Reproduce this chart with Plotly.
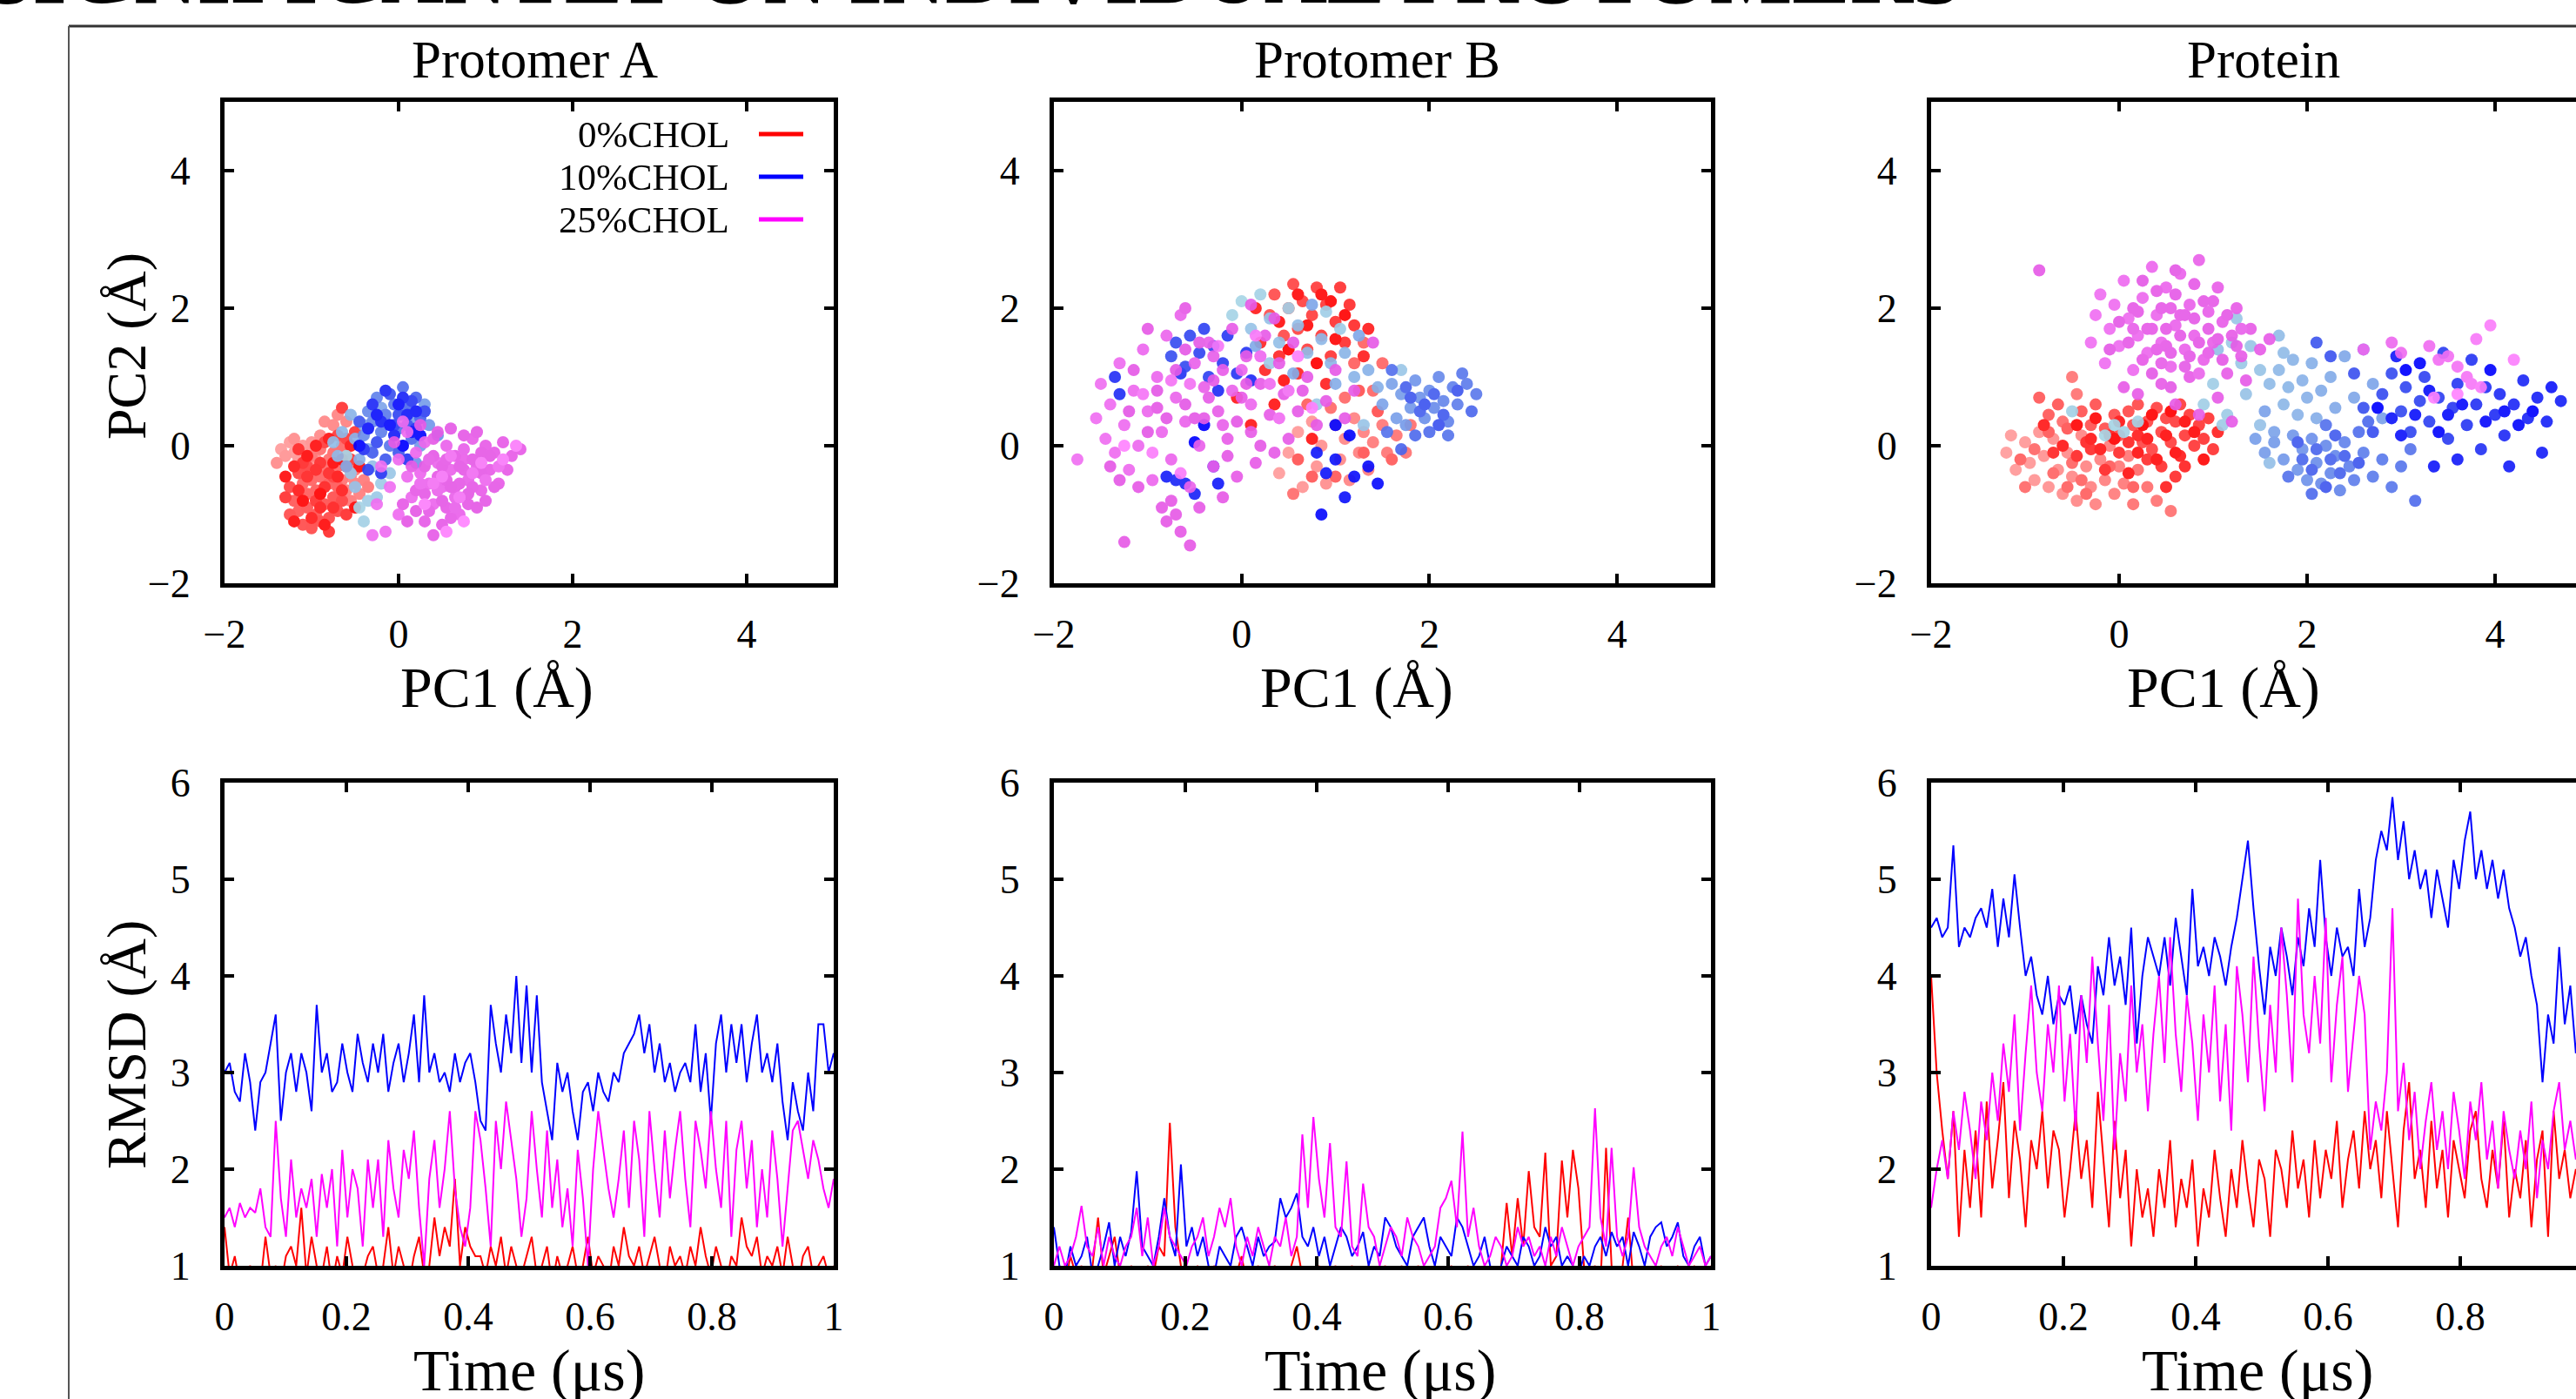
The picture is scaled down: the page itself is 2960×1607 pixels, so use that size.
import plotly.graph_objects as go

W, H = 2960, 1607
FONT = "Liberation Serif"

PANEL_TITLES = ["Protomer A", "Protomer B", "Protein"]
SERIES = ["0%CHOL", "10%CHOL", "25%CHOL"]
LINE_COLORS = ["#ff0000", "#0000ff", "#ff00ff"]
HEADING = "SIGNIFICANTLY ON INDIVIDUAL PROTOMERS"

PC_TICKS = [-2, 0, 2, 4]
RMSD_TICKS = [1, 2, 3, 4, 5, 6]
TIME_TICKS = [0, 0.2, 0.4, 0.6, 0.8, 1]
TIME_TICK_TEXT = ["0", "0.2", "0.4", "0.6", "0.8", "1"]

# ---------------- PCA scatter data (PC1, PC2) in time order ----------------
A_RED = [(-1.35,-0.05),(-1.25,0.05),(-1.2,-0.1),(-1.1,0.0),(-1.15,-0.2),(-1.3,-0.15),(-1.05,-0.1),(-1.0,0.05),
         (-0.95,-0.2),(-1.2,0.1),(-1.4,-0.25),(-0.9,0.15),(-0.85,0.35),(-0.75,0.3),(-0.7,0.45),(-0.6,0.35),
         (-0.55,-0.45),(-0.5,-0.55),(-0.45,-0.7),(-0.6,-0.65),(-0.4,-0.5),(-0.55,-0.8),(-0.5,-0.35),(-0.35,-0.6),
         (-0.65,-0.5),(-1.0,-0.15),(-0.9,-0.05),(-0.8,-0.2),(-0.85,-0.35),(-0.75,-0.1),(-0.7,-0.3),(-0.65,0.0),
         (-0.6,-0.15),(-0.9,-0.45),(-1.0,-0.5),(-1.1,-0.55),(-1.05,-0.7),(-0.95,-0.65),(-0.8,-0.55),(-0.7,-0.6),
         (-1.2,-0.8),(-1.15,-0.95),(-1.05,-0.9),(-0.95,-1.0),(-0.85,-0.85),(-0.75,-0.75),(-1.25,-1.0),(-1.1,-1.15),
         (-1.0,-1.2),(-0.9,-1.1),(-0.8,-1.05),(-0.7,-0.95),(-1.25,-0.6),(-1.15,-0.4),(-1.05,-0.3),(-0.65,-0.8),
         (-0.75,-0.45),(-0.85,0.05),(-0.7,0.15),(-0.6,0.1),(-0.55,-0.2),(-0.5,0.2),(-0.65,0.55),(-0.95,-0.8),
         (-1.3,-0.75),(-0.6,-1.0),(-0.8,-1.25),(-1.1,-0.25),(-0.9,-0.25),(-0.8,-0.4),
         (-1.15,-0.05),(-1.05,-0.45),(-0.95,-0.35),(-0.85,-0.6),(-0.75,-0.9),(-0.65,-0.65),(-0.9,-0.9),
         (-1.0,-1.05),(-1.15,-0.65),(-1.2,-0.3),(-0.7,-0.45),(-0.6,-0.3),(-0.55,0.0),(-0.8,0.1),(-0.95,0.0),
         (-1.3,-0.45),(-1.2,-1.1),(-0.85,-1.15),(-1.05,-0.15),(-0.75,-0.25),(-0.45,-0.3),(-0.5,-0.9),
         (-1.1,-0.8),(-0.9,-0.7),(-0.65,-0.2)]
A_BLUE = [(-0.6,-0.15),(-0.45,-0.9),(-0.4,-1.1),(-0.35,-0.8),(-0.2,-0.55),(-0.25,-0.75),(-0.1,-0.4),(-0.55,-0.4),
          (-0.5,-0.6),(-0.3,-0.3),(-0.75,0.05),(-0.7,-0.15),(-0.65,0.2),(-0.55,0.45),(-0.5,0.1),(-0.45,-0.2),
          (-0.6,-0.3),(-0.4,0.3),(-0.35,-0.05),(-0.2,0.55),(0.05,0.45),(0.15,0.35),(0.3,0.6),(0.25,0.0),
          (0.35,0.3),(0.2,-0.25),(0.45,0.15),(-0.4,0.15),(-0.35,0.5),(-0.3,0.35),(-0.25,0.7),(-0.2,0.2),
          (-0.15,0.45),(-0.1,0.0),(-0.05,0.6),(0.0,0.25),(0.05,0.85),(0.1,0.55),(0.15,0.1),(0.2,0.7),
          (0.25,0.4),(-0.3,-0.1),(-0.15,-0.2),(0.0,-0.1),(-0.45,0.35),(-0.1,0.75),(0.1,0.3),(-0.25,0.05),
          (0.0,0.45),(0.3,0.5),(-0.35,-0.35),(-0.05,0.3),(0.15,0.65),(-0.2,-0.4),(0.1,-0.2),(-0.4,-0.05),(0.2,0.25),
          (-0.3,0.6),(-0.15,0.8),(0.05,0.7),(-0.2,0.35),(-0.05,0.15),(0.1,0.45),(0.2,0.5),(-0.35,0.25),
          (-0.25,0.45),(0.0,0.6),(-0.1,0.3),(0.15,0.2),(0.25,0.15),(-0.45,0.0),(0.05,0.0)]
A_MAG = [(-0.2,-0.3),(-0.1,-0.6),(-0.25,-0.85),(-0.3,-1.3),(-0.15,-1.25),(0.0,-1.0),(0.05,0.35),(0.1,0.2),
         (0.0,-0.2),(0.1,-0.45),(0.15,-0.75),(0.2,-0.1),(0.25,-0.4),(0.3,0.05),(0.35,-0.55),(0.4,-0.85),
         (0.45,-0.25),(0.5,-0.6),(0.55,0.0),(0.6,-0.35),(0.65,-0.75),(0.7,-1.0),(0.75,-0.2),(0.8,-0.5),
         (0.85,0.1),(0.9,-0.3),(0.95,-0.65),(1.0,0.0),(1.05,-0.35),(1.1,-0.1),(1.15,-0.55),(1.2,0.05),
         (1.3,-0.15),(1.4,-0.05),(1.25,-0.35),(0.3,-1.1),(0.4,-1.3),(0.5,-1.15),(0.6,-1.05),(0.35,-0.95),
         (0.55,-0.9),(0.45,-0.45),(0.2,-0.65),(0.15,-0.3),(0.05,-0.85),(0.65,-0.15),(0.7,-0.55),(0.8,-0.85),
         (0.85,-0.2),(0.95,-0.4),(0.75,0.15),(0.6,0.25),(0.9,0.2),(1.0,-0.8),(1.1,-0.6),(0.25,0.3),
         (0.4,0.1),(0.5,-0.3),(0.3,-0.7),(0.55,-0.5),(0.75,-0.35),(0.4,-0.15),(0.65,-0.6),(0.85,-0.6),
         (1.05,-0.15),(-0.05,0.05),(0.1,-1.1),(0.2,-0.95),(0.95,-0.1),(0.45,0.2),
         (0.3,-0.3),(0.5,-0.8),(0.6,-0.6),(0.7,-0.3),(0.8,-0.7),(0.9,-0.9),(0.55,-0.2),(0.35,-0.2),
         (0.75,-0.05),(0.65,-0.9),(0.45,-0.65),(0.25,-0.55),(1.0,-0.5),(1.15,-0.3),(0.85,-0.4),(0.6,-0.15),
         (0.4,-0.55),(0.7,-0.75),(0.5,-0.45),(0.95,-0.25),(1.2,-0.2),(1.35,0.0),(0.3,-0.85),(0.55,-1.25),(0.75,-1.1)]

B_RED = [(0.4,-0.4),(0.5,-0.1),(0.6,0.2),(0.65,-0.6),(0.75,0.35),(0.8,-0.3),(0.85,0.0),(0.9,-0.55),
         (1.0,0.3),(1.05,-0.2),(1.1,0.1),(1.15,-0.5),(1.2,0.4),(1.25,-0.1),(1.3,0.2),(1.35,-0.35),
         (1.4,0.05),(1.5,0.3),(1.55,-0.1),(1.65,0.15),(1.75,-0.1),(1.8,0.3),(0.55,-0.7),(0.95,0.55),
         (1.1,0.7),(1.4,0.8),(1.5,1.2),(1.3,1.5),(1.2,1.2),(0.7,0.6),(1.6,-0.2),(1.0,-0.45),(0.75,-0.45),
         (1.3,-0.1),(0.6,-0.2),(1.25,0.8),(1.45,0.5),
         (0.3,1.9),(0.35,2.2),(0.45,1.6),(0.5,2.0),(0.55,2.35),(0.6,1.7),(0.65,2.1),(0.7,1.4),(0.75,1.9),(0.8,2.3),
         (0.85,1.6),(0.9,2.05),(0.95,1.3),(1.0,1.8),(1.05,2.3),(1.1,1.5),(1.15,2.05),(1.2,1.75),
         (0.4,1.3),(0.2,1.5),(0.25,1.1),(0.6,1.05),(0.9,0.9),(1.3,1.3),(1.35,1.7),(0.15,2.0),
         (-0.05,0.7),(0.1,0.3),(0.35,0.6),(0.75,0.1),(0.45,0.95),
         (0.4,1.8),(0.6,2.2),(0.7,1.75),(0.85,2.2),(1.0,1.55),(0.95,2.1),(1.1,1.9),(0.5,1.4),(0.8,1.2)]
B_BLUE = [(0.0,2.1),(-0.1,1.9),(0.2,2.2),(0.5,2.0),(0.9,1.95),(1.05,1.7),(0.3,1.2),(0.8,0.6),(1.7,1.1),(1.3,0.3),
          (0.1,1.7),(0.3,1.85),(0.4,1.5),(0.6,1.75),(0.7,1.35),(0.85,1.55),(0.95,1.2),(1.1,1.35),(1.2,1.0),
          (1.35,1.1),(1.45,0.85),(1.0,0.9),(0.55,1.05),(0.15,1.45),(1.25,1.6),(0.75,2.05),
          (1.5,0.6),(1.6,0.9),(1.65,0.4),(1.7,0.75),(1.75,0.3),(1.8,0.55),(1.85,0.95),(1.9,0.7),(1.95,0.4),
          (2.0,0.8),(2.05,0.55),(2.1,1.0),(2.15,0.65),(2.2,0.35),(2.25,0.85),(2.3,0.6),(2.4,0.9),(2.5,0.75),
          (2.35,1.05),(2.2,0.15),(1.55,0.2),(1.6,1.1),(2.0,0.2),(1.85,0.15),(2.45,0.5),(1.7,-0.05),
          (1.75,0.85),(1.9,0.5),(2.05,0.75),(2.15,0.45),(1.8,0.7),(2.3,0.8),(1.95,0.6),(2.1,0.3),
          (-0.75,1.3),(-0.7,1.5),(-0.6,1.15),(-0.55,1.6),(-0.45,1.35),(-0.4,1.7),(-0.35,1.0),(-0.3,1.45),
          (-0.2,1.2),(-0.15,1.6),(-0.05,1.05),(0.05,1.35),(-0.65,1.05),(-1.35,1.0),(-1.3,0.75),(-0.25,0.8),
          (0.1,0.95),(-0.7,-0.5),(-0.6,-0.55),(-0.5,-0.7),(-0.8,-0.45),(-0.3,-0.3),(-0.25,-0.55),(0.8,-0.1),
          (0.9,-0.4),(1.0,-0.2),(1.1,-0.75),(1.2,-0.45),(1.35,-0.3),(1.45,-0.55),(0.85,-1.0),(1.0,0.3),
          (1.15,0.15),(-0.5,0.05),(-0.4,0.3)]
B_MAG = [(-1.75,-0.2),(-1.55,0.4),(-1.5,0.9),(-1.45,0.1),(-1.4,0.6),(-1.35,-0.1),(-1.3,1.2),(-1.25,0.3),
         (-1.2,-0.35),(-1.15,0.8),(-1.1,0.0),(-1.05,1.4),(-1.0,0.5),(-0.95,-0.5),(-0.9,1.0),(-0.85,0.2),
         (-0.8,1.6),(-0.75,-0.2),(-0.7,0.7),(-0.65,1.9),(-0.6,0.35),(-0.55,-0.6),(-0.5,1.2),(-0.45,0.0),
         (-0.4,0.85),(-0.35,1.5),(-0.3,-0.3),(-0.25,0.5),(-0.2,1.1),(-0.15,0.1),(-0.1,1.7),(-0.05,-0.45),
         (0.0,0.7),(0.05,1.3),(0.1,0.2),(0.15,-0.25),(0.2,0.9),(0.25,1.6),(0.3,0.45),(0.35,-0.1),
         (0.4,1.2),(0.45,0.75),(0.5,0.1),(0.55,1.5),(0.6,0.5),(0.7,1.0),(0.8,0.3),(0.9,0.65),
         (1.0,1.1),(1.1,0.4),(1.2,0.8),(1.4,1.5),(-0.85,-0.9),(-0.8,-1.1),(-0.7,-1.0),(-0.65,-1.25),
         (-0.75,-0.8),(-1.25,-1.4),(-0.55,-1.45),(-0.2,-0.75),(-0.45,-0.9),(-1.0,1.7),(-0.6,2.0),(0.1,2.05),
         (-1.1,-0.6),(-1.3,-0.5),(-0.9,0.55),(-0.4,0.4),(0.2,0.0),(-0.6,1.4),(-1.15,1.1),(-0.3,0.95),
         (0.35,1.85),(0.65,0.8),(-0.05,0.35),(-1.4,-0.3),(-0.15,-0.15),(0.05,0.9),
         (-1.2,0.5),(-1.0,0.2),(-0.9,0.8),(-0.8,0.4),(-0.7,1.1),(-0.6,0.6),(-0.5,0.4),(-0.45,1.5),
         (-0.35,0.7),(-0.3,1.3),(-0.2,0.3),(-0.1,0.8),(0.0,1.1),(0.1,0.6),(0.2,1.3),(0.3,0.9),
         (0.4,0.4),(0.5,0.8),(-0.55,0.9),(-0.75,0.95),(-1.05,0.75),(-0.25,1.45),(0.15,1.6),(-0.65,-0.4),
         (-0.95,-0.1),(0.6,1.3),(0.75,0.55),(-1.25,0.0)]

P_RED = [(-1.2,-0.1),(-1.15,0.15),(-1.1,-0.35),(-1.0,0.05),(-0.95,-0.25),(-0.9,-0.5),(-0.85,0.2),(-0.8,-0.15),
         (-0.75,-0.6),(-0.7,0.1),(-0.65,-0.35),(-0.6,-0.7),(-0.55,-0.1),(-0.5,-0.45),(-0.45,-0.8),(-0.4,0.15),
         (-0.35,-0.3),(-0.3,-0.6),(-0.25,-0.85),(-0.2,-0.2),(-0.15,-0.5),(-0.1,0.0),(-0.05,-0.7),(0.0,-0.3),
         (0.05,-0.55),(0.1,-0.15),(-0.5,1.0),(-0.45,0.75),(0.4,-0.8),(0.55,-0.95),(0.15,-0.85),(0.3,-0.6),
         (0.2,-0.35),(-0.6,0.35),(-1.0,-0.6),(-0.9,-0.05),(-0.7,-0.4),(-0.5,-0.25),(-0.4,-0.5),(-0.55,-0.6),
         (-0.35,-0.7),(-1.05,-0.2),(-0.1,-0.3),(0.15,-0.6),(-0.75,0.2),
         (-0.85,0.7),(-0.75,0.45),(-0.65,0.6),(-0.55,0.25),(-0.4,0.5),
         (-0.3,0.3),(-0.25,0.6),(-0.15,0.25),(-0.05,0.45),(0.0,0.15),(0.1,0.5),(0.15,0.3),(0.2,0.6),
         (0.25,0.05),(0.3,0.35),(0.35,-0.05),(0.4,0.55),(0.45,0.2),(0.5,0.4),(0.55,0.05),(0.6,0.35),
         (0.65,0.6),(0.7,0.15),(0.75,0.45),(0.8,0.0),(0.85,0.3),(0.9,0.1),(1.0,-0.05),(0.95,0.4),
         (0.45,-0.3),(0.3,-0.2),(0.6,-0.45),(0.0,-0.1),(-0.3,-0.05),(-0.15,-0.35),(-0.45,-0.15),(-0.7,-0.1),
         (-0.35,0.05),(0.1,0.05),(0.7,-0.3),(1.05,0.2),(0.5,-0.6),(0.2,0.15),(-0.1,0.15),(0.65,-0.15),
         (-0.8,0.3),(-0.6,0.0),(-0.3,0.1),(-0.2,-0.05),(0.0,0.35),(0.1,-0.4),(0.2,-0.1),(0.3,0.1),
         (0.4,-0.2),(0.5,0.15),(0.6,-0.1),(0.7,0.35),(0.8,0.2),(0.9,-0.2),(-0.25,0.4),(-0.45,0.3),
         (0.35,0.45),(-0.05,0.1),(0.55,0.5),(0.25,0.3)]
P_BLUE = [(-0.15,0.15),(-0.05,0.3),(0.05,0.2),(0.2,0.35),(-0.5,0.5),(0.9,0.6),(1.0,0.9),(1.1,0.3),(1.15,0.45),
          (1.2,1.5),(1.3,1.2),(1.25,1.85),(1.4,1.45),(1.5,1.1),(1.35,0.75),(1.5,0.3),(1.6,-0.25),(1.05,1.4),
          (1.7,1.6),(1.75,1.35),(1.6,0.9),(1.7,1.1),(1.75,0.6),(1.8,0.85),(1.85,1.25),(1.9,0.45),(1.95,0.95),
          (2.0,0.7),(2.05,1.2),(2.1,0.4),(2.15,0.8),(2.25,1.0),(2.3,0.55),(2.4,1.3),(2.5,0.7),(2.6,1.4),
          (2.7,0.9),(1.65,0.2),(1.55,0.5),(2.8,0.4),(1.45,0.1),(1.55,-0.1),(1.65,0.05),(1.75,-0.2),(1.85,0.15),
          (1.9,-0.35),(1.95,-0.05),(2.0,-0.5),(2.05,0.1),(2.1,-0.25),(2.15,-0.55),(2.2,0.0),(2.25,-0.4),
          (2.3,-0.15),(2.35,-0.65),(2.4,0.05),(2.45,-0.3),(2.5,-0.5),(2.6,-0.1),(2.7,-0.45),(2.8,-0.2),
          (2.9,-0.6),(3.0,-0.3),(3.1,-0.05),(1.8,-0.45),(2.2,0.3),(2.55,0.2),(3.15,-0.8),(2.05,-0.7),(2.65,0.35),
          (1.95,-0.2),(2.1,-0.05),(2.25,-0.2),(2.35,-0.4),(2.05,-0.35),(2.4,-0.15),(2.3,0.15),(1.9,0.05),
          (2.2,-0.6),(2.55,-0.25),
          (2.1,1.5),(2.25,1.3),(2.5,1.05),(2.6,0.55),(2.7,0.2),(2.8,0.75),(2.9,1.05),(3.0,0.5),(3.05,0.85),
          (3.1,0.2),(3.2,0.65),(3.25,1.0),(3.3,0.35),(3.4,0.7),(3.45,1.35),(3.5,0.1),(3.55,0.55),(3.6,0.9),
          (3.7,0.3),(3.75,1.25),(3.8,0.6),(3.85,-0.05),(3.9,0.85),(4.0,0.45),(4.05,0.75),(4.1,0.15),(4.2,0.6),
          (4.3,0.95),(4.35,0.4),(4.45,0.7),(4.55,0.35),(4.7,0.65),(4.5,-0.1),(4.15,-0.3),(3.6,-0.2),(2.95,1.3),
          (3.35,-0.3),(4.6,0.85),(2.9,0.4),(3.0,0.15),(3.15,0.45),(3.3,0.8),(3.5,0.45),(3.65,0.6),(3.9,0.35),
          (4.1,0.5),(4.25,0.3),(3.4,0.2),(3.2,1.2),(3.95,1.1),(4.4,0.5),(2.75,0.55),(3.05,1.1)]
P_MAG = [(-0.3,1.5),(-0.25,1.9),(-0.2,2.2),(-0.15,1.2),(-0.1,1.7),(-0.05,2.05),(0.0,1.45),(0.05,2.4),
         (0.1,1.85),(0.15,1.1),(0.2,1.6),(0.25,2.15),(0.3,1.35),(0.35,2.6),(0.4,1.9),(0.45,1.5),
         (0.5,2.3),(0.55,1.15),(0.6,1.75),(0.65,2.5),(0.7,1.4),(0.75,2.05),(0.8,1.6),(0.85,2.7),
         (0.9,1.25),(0.95,1.95),(1.0,1.5),(1.05,2.3),(1.1,1.8),(1.15,1.05),(1.2,1.6),(1.25,2.0),
         (1.3,1.3),(1.4,1.7),(1.5,1.4),(1.6,1.55),(0.2,0.75),(0.05,0.85),(0.6,0.6),(0.85,0.45),
         (0.45,0.9),(1.05,0.7),(0.35,1.7),(0.75,1.0),(0.55,2.0),(0.95,1.35),(0.25,1.25),(0.65,1.9),
         (0.4,2.25),(0.8,2.35),(0.15,2.0),(0.5,1.45),(1.0,2.1),(-0.85,2.55),(1.35,0.95),(1.2,0.35),
         (0.1,1.5),(0.2,1.95),(0.3,1.7),(0.4,1.4),(0.45,2.0),(0.5,1.7),(0.55,1.35),(0.6,2.2),
         (0.65,1.6),(0.7,1.9),(0.75,1.3),(0.8,1.85),(0.85,1.5),(0.9,2.1),(0.95,1.7),(1.05,1.55),
         (1.1,1.25),(1.15,1.9),(1.25,1.45),(0.35,1.05),(0.55,0.85),(0.0,1.8),(-0.1,1.4),(0.25,2.4),
         (0.6,2.55),(0.7,1.15),(0.45,1.2),(0.15,1.7),(1.3,1.7),(0.85,1.05),
         (2.6,1.4),(2.9,1.5),(3.0,1.35),(3.3,1.45),(3.4,1.25),(3.5,1.3),(3.6,1.15),(3.7,1.0),
         (3.75,0.9),(3.8,1.55),(3.85,0.85),(3.95,1.75),(4.2,1.25),(3.35,0.7),(3.6,0.75)]

# ---------------- RMSD time series (Å), 120 frames over 1 µs ----------------
TIME = [round(i / 119, 5) for i in range(120)]

A_RMSD_RED = [1.4,0.9,1.1,0.8,0.9,1.0,0.9,0.8,1.3,0.9, 1.0,0.8,1.1,1.2,1.0,1.6,0.9,1.3,1.0,0.9,
              1.2,0.8,1.1,0.9,1.3,1.0,0.8,0.9,1.1,1.2, 0.9,1.0,1.4,0.9,1.2,1.0,0.8,1.1,1.3,0.9,
              1.0,1.5,1.1,1.4,1.2,1.9,1.0,1.4,1.2,1.1, 1.1,0.9,1.2,1.0,1.3,0.9,1.2,1.0,0.9,1.1,
              1.3,0.9,1.0,1.2,0.8,1.1,0.9,1.0,1.2,0.9, 1.0,1.3,0.9,1.1,1.0,0.8,1.2,1.0,1.4,1.1,
              1.0,1.2,0.9,1.1,1.3,1.0,0.8,1.2,1.0,1.1, 0.9,1.2,1.0,1.4,1.1,0.9,1.2,1.0,0.8,1.1,
              1.0,1.5,1.2,1.1,1.3,0.9,1.1,1.0,1.2,0.9, 1.3,1.0,0.8,1.1,1.2,0.9,1.0,1.1,0.9,1.0]
A_RMSD_BLUE = [3.0,3.1,2.8,2.7,3.2,2.9,2.4,2.9,3.0,3.3, 3.6,2.5,3.0,3.2,2.8,3.2,3.0,2.6,3.7,3.0,
               3.2,2.8,2.9,3.3,3.0,2.8,3.4,3.1,2.9,3.3, 3.0,3.4,2.8,3.1,3.3,2.9,3.2,3.6,2.9,3.8,
               3.0,3.2,2.9,3.0,2.8,3.2,2.9,3.1,3.2,2.9, 2.5,2.4,3.7,3.3,3.0,3.6,3.2,4.0,3.1,3.9,
               3.0,3.8,2.9,2.6,2.3,3.1,2.8,3.0,2.6,2.3, 2.8,2.9,2.6,3.0,2.8,2.7,3.0,2.9,3.2,3.3,
               3.4,3.6,3.2,3.5,3.0,3.3,2.9,3.1,2.8,3.0, 3.1,2.9,3.5,2.8,3.2,2.5,3.3,3.6,3.0,3.5,
               3.1,3.5,2.9,3.3,3.6,3.0,3.2,2.9,3.3,2.7, 2.3,2.9,2.6,2.4,3.0,2.6,3.5,3.5,3.0,3.2]
A_RMSD_MAG = [1.5,1.6,1.4,1.65,1.5,1.6,1.55,1.8,1.4,1.3, 2.5,1.7,1.3,2.1,1.5,1.8,1.6,1.9,1.3,1.95,
              1.6,2.0,1.2,2.2,1.5,2.0,1.8,1.2,2.1,1.6, 2.1,1.3,2.3,1.8,1.5,2.2,1.9,2.4,1.6,1.0,
              1.9,2.3,1.6,2.0,2.6,1.8,1.4,1.2,1.6,2.6, 2.3,1.8,1.2,2.5,2.0,2.7,2.3,1.9,1.3,1.7,
              2.6,2.0,1.5,2.4,1.6,2.1,1.4,1.8,1.2,2.2, 1.7,1.0,2.0,2.6,2.2,1.8,1.5,1.9,2.4,1.6,
              2.5,2.1,1.3,2.6,2.0,1.5,2.4,1.7,2.2,2.6, 1.9,1.4,2.5,2.2,1.8,2.6,2.0,1.6,2.5,1.3,
              2.2,2.5,1.8,2.3,1.4,2.0,1.5,2.4,1.9,1.2, 1.8,2.4,2.5,2.2,1.9,2.3,2.1,1.8,1.6,1.9]

B_RMSD_RED = [0.9,1.0,0.8,1.1,0.9,1.0,0.8,1.0,1.5,0.9, 1.1,1.3,0.9,0.8,1.0,0.9,0.8,1.0,0.9,1.2,
              1.1,2.48,1.4,1.0,0.9,0.8,1.0,0.9,0.8,1.0, 0.9,0.8,1.0,0.9,1.1,0.8,0.9,1.0,0.8,0.9,
              1.0,0.9,0.8,1.0,1.2,0.9,0.8,0.9,1.0,0.8, 0.9,1.0,0.8,0.9,1.0,0.8,0.9,1.0,0.8,0.9,
              1.0,0.8,0.9,1.0,0.8,0.9,1.0,0.8,0.9,1.0, 0.8,0.9,1.0,0.8,0.9,1.0,0.8,0.9,1.0,0.8,
              0.9,1.0,1.65,1.1,1.7,1.2,1.98,1.4,1.3,2.17, 1.0,1.1,2.09,1.5,2.2,1.8,1.0,0.9,1.0,0.8,
              2.22,1.0,0.9,1.0,1.5,0.8,0.9,1.0,0.8,0.9, 1.0,0.8,0.9,1.0,0.8,0.9,1.0,0.8,0.9,1.0]
B_RMSD_BLUE = [1.4,1.0,0.9,1.2,1.0,1.1,1.3,0.9,1.0,1.2, 1.45,1.0,1.3,1.1,1.35,1.98,1.2,1.1,1.0,1.3,
               1.7,1.3,1.1,2.05,1.2,1.4,1.1,1.3,1.0,0.9, 1.2,1.1,1.0,1.3,1.4,1.2,1.0,1.3,1.1,1.2,
               1.25,1.7,1.5,1.6,1.75,1.3,1.2,1.4,1.1,1.3, 1.0,1.2,1.4,1.3,1.1,1.2,1.35,1.0,1.2,1.1,
               1.5,1.4,1.2,1.1,1.0,1.3,1.4,1.5,1.2,1.0, 1.3,1.2,1.1,1.5,1.4,1.2,1.0,1.1,1.3,1.0,
               0.9,1.0,1.2,1.1,1.0,1.3,1.2,1.0,1.1,1.4, 1.2,1.3,1.0,1.1,1.0,0.9,1.1,1.0,1.2,1.3,
               1.1,1.35,1.2,1.3,1.0,1.35,1.2,1.0,1.3,1.4, 1.45,1.2,1.3,1.45,1.1,1.0,1.2,1.3,1.0,1.1]
B_RMSD_MAG = [1.0,1.2,1.0,1.1,1.3,1.62,1.2,1.1,1.4,1.0, 1.3,1.1,1.0,1.2,1.3,1.6,1.1,1.5,1.0,1.2,
              1.6,1.3,1.2,1.1,1.0,1.2,1.3,1.5,1.1,1.3, 1.6,1.4,1.7,1.2,1.0,1.3,1.1,1.4,1.2,1.0,
              1.3,1.2,1.5,1.1,1.3,2.36,1.6,2.54,1.9,1.5, 2.27,1.4,1.3,2.08,1.2,1.1,1.85,1.4,1.3,1.0,
              1.2,1.4,1.3,1.1,1.5,1.3,1.2,1.0,1.1,1.2, 1.6,1.7,1.88,1.4,2.39,1.3,1.6,1.2,1.0,1.1,
              1.3,1.2,1.0,1.1,1.4,1.2,1.3,1.1,1.2,1.0, 1.3,1.1,1.4,1.2,1.0,1.2,1.3,1.4,2.63,1.5,
              1.2,2.22,1.3,1.1,1.3,2.02,1.4,1.2,1.1,1.0, 1.2,1.3,1.1,1.4,1.2,1.0,1.1,1.2,1.0,1.1]

P_RMSD_RED = [4.0,3.0,2.4,1.9,2.6,1.3,2.2,1.6,2.4,1.5, 2.7,1.8,2.3,2.9,1.7,2.5,2.1,1.4,2.3,2.0,
              2.6,1.8,2.4,2.2,1.5,2.0,2.6,1.9,2.3,1.6, 2.8,2.1,1.4,2.5,1.7,2.2,1.2,2.0,1.5,1.8,
              1.3,2.0,1.6,2.3,1.4,1.9,1.6,2.1,1.2,1.8, 1.5,2.2,1.7,1.3,2.0,1.6,2.3,1.8,1.4,2.1,
              1.9,1.3,2.2,2.0,1.6,2.4,1.8,2.1,1.5,2.3, 1.7,2.2,1.9,2.5,1.6,2.1,2.4,1.8,2.6,2.0,
              2.3,1.7,2.6,2.0,1.4,2.4,2.9,1.9,2.2,1.6, 2.5,1.8,2.2,1.5,2.3,2.0,1.7,2.4,2.6,1.9,
              1.6,2.2,1.8,2.5,1.5,2.0,1.7,2.3,1.4,2.1, 2.4,1.3,2.6,1.9,2.2,1.7,2.0,1.8,2.3,1.9]
P_RMSD_BLUE = [4.5,4.6,4.4,4.5,5.35,4.3,4.5,4.4,4.6,4.7, 4.5,4.9,4.3,4.8,4.4,5.05,4.5,4.0,4.2,3.8,
               3.6,4.0,3.5,3.8,3.7,3.9,3.4,3.8,3.5,3.3, 4.1,3.8,4.4,3.9,4.2,3.7,4.5,3.3,4.0,4.4,
               4.2,4.0,4.4,3.9,4.6,4.2,3.8,4.9,4.1,4.3, 4.0,4.4,4.2,3.9,4.3,4.6,5.0,5.4,4.7,4.1,
               3.6,4.3,4.0,4.5,4.2,3.8,4.4,4.1,4.7,4.3, 5.2,4.4,4.0,4.5,4.2,4.3,4.0,4.9,4.3,4.6,
               5.2,5.5,5.3,5.85,5.2,5.6,5.0,5.3,4.9,5.1, 4.6,5.1,4.8,4.5,5.2,4.9,5.4,5.7,5.0,5.3,
               4.9,5.2,4.8,5.1,4.7,4.5,4.2,4.4,4.0,3.7, 2.9,3.6,3.3,4.3,3.5,3.9,3.2,3.8,3.5,3.6]
P_RMSD_MAG = [1.6,2.0,2.3,1.9,2.6,2.2,2.8,2.4,1.9,2.7, 2.3,3.0,2.5,3.3,2.8,3.6,2.4,3.2,3.9,3.0,
              2.6,3.5,3.0,3.9,2.7,3.4,2.4,3.8,3.1,4.2, 3.3,2.5,3.7,2.2,3.2,2.7,3.9,3.0,3.5,2.6,
              3.4,4.0,3.1,4.4,3.4,2.8,3.8,3.3,2.5,3.6, 3.0,3.9,2.7,3.5,2.4,4.1,3.6,2.9,4.2,3.3,
              2.6,3.7,3.0,4.5,3.8,2.9,4.8,3.6,3.2,4.0, 3.3,4.6,2.9,3.7,4.2,2.8,3.4,4.0,3.6,2.2,
              2.7,2.4,3.0,4.7,2.6,3.1,2.3,2.8,2.0,2.5, 2.9,2.2,2.6,2.0,2.8,2.4,1.9,2.7,2.3,2.9,
              2.1,2.5,1.8,2.6,2.2,1.9,2.4,2.0,2.7,1.7, 2.3,2.0,2.6,2.9,2.2,2.5,2.1,2.4,2.6,2.3]

# ---------------- layout geometry (pixels) ----------------
COLS = [(258, 958), (1211, 1966), (2219, 2960)]
ROWS = [(117, 670), (899, 1454)]
PC_RANGES = [[-2, 5], [-2, 5], [-2, 4.861]]
T_RANGES = [[0, 1], [0, 1], [0, 0.975]]

SCATTER_SCALES = [
    [[0, "#ff9c9c"], [0.4, "#ff5a5a"], [1, "#ff0000"]],
    [[0, "#a8d6e6"], [0.3, "#7aa0ea"], [0.6, "#4058ee"], [1, "#0000ff"]],
    [[0, "#f070f2"], [0.3, "#e85ce8"], [0.8, "#e45ae6"], [1, "#ff84ff"]],
]


def px(x):
    return x / W


def py(y):
    return 1 - y / H


fig = go.Figure()

scatter_sets = [[A_RED, A_BLUE, A_MAG], [B_RED, B_BLUE, B_MAG], [P_RED, P_BLUE, P_MAG]]
rmsd_sets = [[A_RMSD_RED, A_RMSD_BLUE, A_RMSD_MAG],
             [B_RMSD_RED, B_RMSD_BLUE, B_RMSD_MAG],
             [P_RMSD_RED, P_RMSD_BLUE, P_RMSD_MAG]]

for c in range(3):
    xa = "x" if c == 0 else f"x{c + 1}"
    ya = "y" if c == 0 else f"y{c + 1}"
    for s in range(3):
        pts = scatter_sets[c][s]
        n = len(pts)
        fig.add_trace(go.Scatter(
            x=[p[0] for p in pts], y=[p[1] for p in pts], mode="markers",
            xaxis=xa, yaxis=ya, showlegend=False, opacity=0.92,
            marker=dict(size=14, color=list(range(n)), colorscale=SCATTER_SCALES[s],
                        cmin=0, cmax=n - 1, showscale=False, line=dict(width=0)),
            name=SERIES[s]))
    xb, yb = f"x{c + 4}", f"y{c + 4}"
    for s in range(3):
        fig.add_trace(go.Scatter(
            x=TIME, y=rmsd_sets[c][s], mode="lines", xaxis=xb, yaxis=yb,
            showlegend=False, line=dict(color=LINE_COLORS[s], width=2), name=SERIES[s]))

axis_common = dict(showline=True, linecolor="black", linewidth=5, ticks="inside",
                   ticklen=11, tickwidth=4, tickcolor="black", showgrid=False,
                   zeroline=False, automargin=False,
                   tickfont=dict(family=FONT, size=46, color="black"))

layout = {}
for c in range(3):
    x0, x1 = COLS[c]
    dom_x = [px(x0), min(1.0, px(x1))]
    for r in range(2):
        idx = c + 1 + 3 * r
        xk = "xaxis" if idx == 1 else f"xaxis{idx}"
        yk = "yaxis" if idx == 1 else f"yaxis{idx}"
        xref = "x" if idx == 1 else f"x{idx}"
        yref = "y" if idx == 1 else f"y{idx}"
        ytop, ybot = ROWS[r]
        dom_y = [py(ybot), py(ytop)]
        if r == 0:
            xcfg = dict(range=PC_RANGES[c], tickvals=PC_TICKS, ticklabelstandoff=14)
            ycfg = dict(range=[-2, 5], tickvals=PC_TICKS, ticklabelstandoff=25)
        else:
            xcfg = dict(range=T_RANGES[c], tickvals=TIME_TICKS, ticktext=TIME_TICK_TEXT,
                        ticklabelstandoff=14)
            ycfg = dict(range=[1, 6], tickvals=RMSD_TICKS, ticklabelstandoff=25)
        layout[xk] = dict(axis_common, domain=dom_x, anchor=yref, mirror="ticks", **xcfg)
        layout[yk] = dict(axis_common, domain=dom_y, anchor=xref,
                          mirror=("ticks" if c < 2 else False), **ycfg)

annotations = []
TITLE_X = [614, 1582, 2601]
PC1_X = [571, 1559, 2555]
TIME_X = [608, 1586, 2594]
for c in range(3):
    annotations.append(dict(text=PANEL_TITLES[c], x=px(TITLE_X[c]), y=py(104), xref="paper",
                            yref="paper", xanchor="center", yanchor="bottom", showarrow=False,
                            font=dict(family=FONT, size=61, color="black")))
    annotations.append(dict(text="PC1 (Å)", x=px(PC1_X[c]), y=py(829), xref="paper",
                            yref="paper", xanchor="center", yanchor="bottom", showarrow=False,
                            font=dict(family=FONT, size=66, color="black")))
    annotations.append(dict(text="Time (μs)", x=px(TIME_X[c]), y=py(1614), xref="paper",
                            yref="paper", xanchor="center", yanchor="bottom", showarrow=False,
                            font=dict(family=FONT, size=68, color="black")))
annotations.append(dict(text="PC2 (Å)", x=px(145), y=py(398), xref="paper", yref="paper",
                        xanchor="center", yanchor="middle", textangle=-90, showarrow=False,
                        font=dict(family=FONT, size=64, color="black")))
annotations.append(dict(text="RMSD (Å)", x=px(145), y=py(1200), xref="paper", yref="paper",
                        xanchor="center", yanchor="middle", textangle=-90, showarrow=False,
                        font=dict(family=FONT, size=64, color="black")))
annotations.append(dict(text="<b>" + HEADING + "</b>", x=px(2256), y=py(27), xref="paper",
                        yref="paper", xanchor="right", yanchor="bottom", showarrow=False,
                        font=dict(family=FONT, size=100, color="black")))

shapes = [
    dict(type="line", xref="paper", yref="paper", x0=px(79), x1=1.0, y0=py(30), y1=py(30),
         line=dict(color="#333333", width=3)),
    dict(type="line", xref="paper", yref="paper", x0=px(79), x1=px(79), y0=py(30), y1=0,
         line=dict(color="#555555", width=2)),
]
LEG_Y = [154, 203, 252]
for s in range(3):
    annotations.append(dict(text=SERIES[s], x=px(840), y=py(LEG_Y[s]), xref="paper",
                            yref="paper", xanchor="right", yanchor="middle", showarrow=False,
                            font=dict(family=FONT, size=43, color="black")))
    shapes.append(dict(type="line", xref="paper", yref="paper", x0=px(872), x1=px(923),
                       y0=py(LEG_Y[s]), y1=py(LEG_Y[s]),
                       line=dict(color=LINE_COLORS[s], width=5)))

fig.update_layout(width=W, height=H,
                  margin=dict(l=0, r=0, t=0, b=0, pad=0, autoexpand=False),
                  paper_bgcolor="white", plot_bgcolor="white", showlegend=False,
                  annotations=annotations, shapes=shapes, **layout)

fig.write_html("out.html", config={"displayModeBar": False},
               post_script="document.body.style.margin='0';document.body.style.overflow='hidden';")
